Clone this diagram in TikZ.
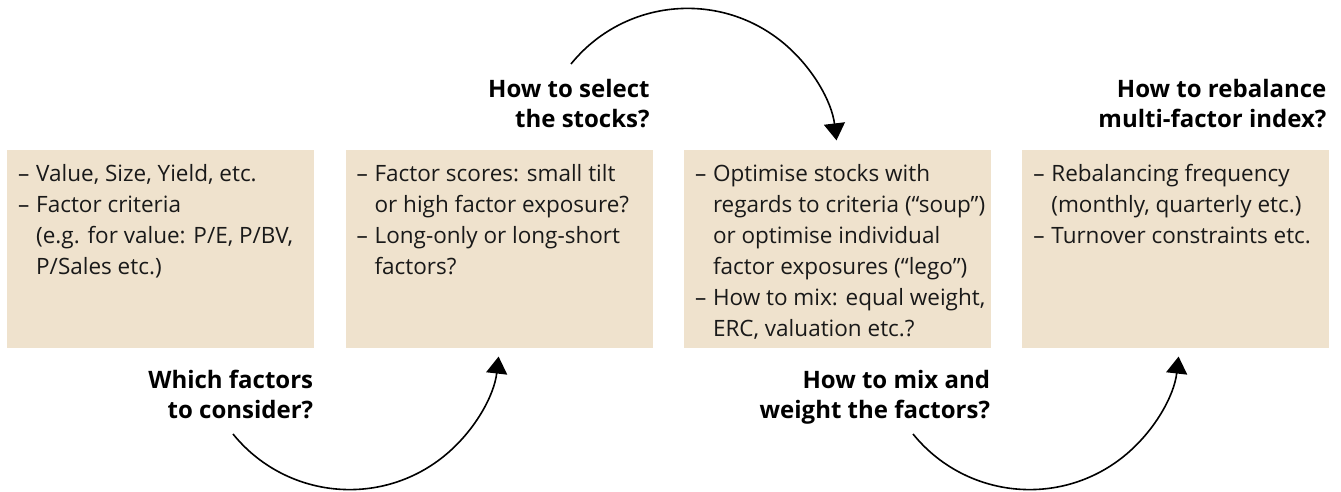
\documentclass[tikz,border=0pt]{standalone}
\usepackage{fontspec}
\setmainfont{Open Sans}
\usetikzlibrary{positioning,arrows.meta}
\definecolor{boxbeige}{RGB}{239,226,205}
\definecolor{boxtext}{RGB}{25,25,25}
\newlength{\dashind}
\setlength{\dashind}{18pt}
\newcommand{\bdash}{\makebox[\dashind][l]{\textendash}}
\newcommand{\bcont}{\hspace*{\dashind}}
\tikzset{
  stepbox/.style={fill=boxbeige,minimum width=307pt,minimum height=198pt,inner sep=0pt},
  boxtxt/.style={anchor=north west,align=left,inner sep=0pt,text=boxtext,
    font=\fontsize{22.5}{31}\selectfont},
  question/.style={align=right,inner sep=0pt,font=\fontsize{24}{30}\selectfont\bfseries},
  turn/.style={line width=1.6pt,-{Triangle[width=21pt,length=17pt]}}
}
\begin{document}
\begin{tikzpicture}[x=1pt,y=1pt]
        \useasboundingbox (0,0) rectangle (1341,492);
        %% Boxes
        \node[stepbox,anchor=north west] (b1) at (7,342) {};
        \node[stepbox,right=31pt of b1] (b2) {};
        \node[stepbox,right=31pt of b2] (b3) {};
        \node[stepbox,right=31pt of b3] (b4) {};
        %% Box texts
        \node[boxtxt] (t1) at ([xshift=11pt,yshift=-14pt]b1.north west)
          {\bdash Value, Size, Yield, etc.\\ \bdash Factor criteria\\ \bcont(e.g. for value: P/E, P/BV,\\ \bcont P/Sales etc.)};
        \node[boxtxt] (t2) at ([xshift=11pt,yshift=-14pt]b2.north west)
          {\bdash Factor scores: small tilt\\ \bcont or high factor exposure?\\ \bdash Long-only or long-short\\ \bcont factors?};
        \node[boxtxt] (t3) at ([xshift=11pt,yshift=-14pt]b3.north west)
          {\bdash Optimise stocks with\\ \bcont regards to criteria (“soup”)\\ \bcont or optimise individual\\ \bcont factor exposures (“lego”)\\ \bdash How to mix: equal weight,\\ \bcont ERC, valuation etc.?};
        \node[boxtxt] (t4) at ([xshift=11pt,yshift=-14pt]b4.north west)
          {\bdash Rebalancing frequency\\ \bcont (monthly, quarterly etc.)\\ \bdash Turnover constraints etc.};
        %% Questions
        \node[question,anchor=north east] (q1) at ([xshift=-1pt,yshift=-22pt]b1.south east) {Which factors\\ to consider?};
        \node[question,anchor=south east] (q2) at ([xshift=-3pt,yshift=22pt]b2.north east) {How to select\\ the stocks?};
        \node[question,anchor=north east] (q3) at ([xshift=-1pt,yshift=-22pt]b3.south east) {How to mix and\\ weight the factors?};
        \node[question,anchor=south east] (q4) at ([xshift=-3pt,yshift=22pt]b4.north east) {How to rebalance\\ multi-factor index?};
        %% Turning arrows
        \coordinate (s1) at (233,58);
        \coordinate (s2) at (571,428);
        \coordinate (s3) at (913,58);
        \draw[turn] (s1) arc[start angle=219,end angle=353.5,radius=150pt];
        \draw[turn] (s2) arc[start angle=141,end angle=6.9,radius=150pt];
        \draw[turn] (s3) arc[start angle=219,end angle=353.5,radius=150pt];
    \end{tikzpicture}
\end{document}
